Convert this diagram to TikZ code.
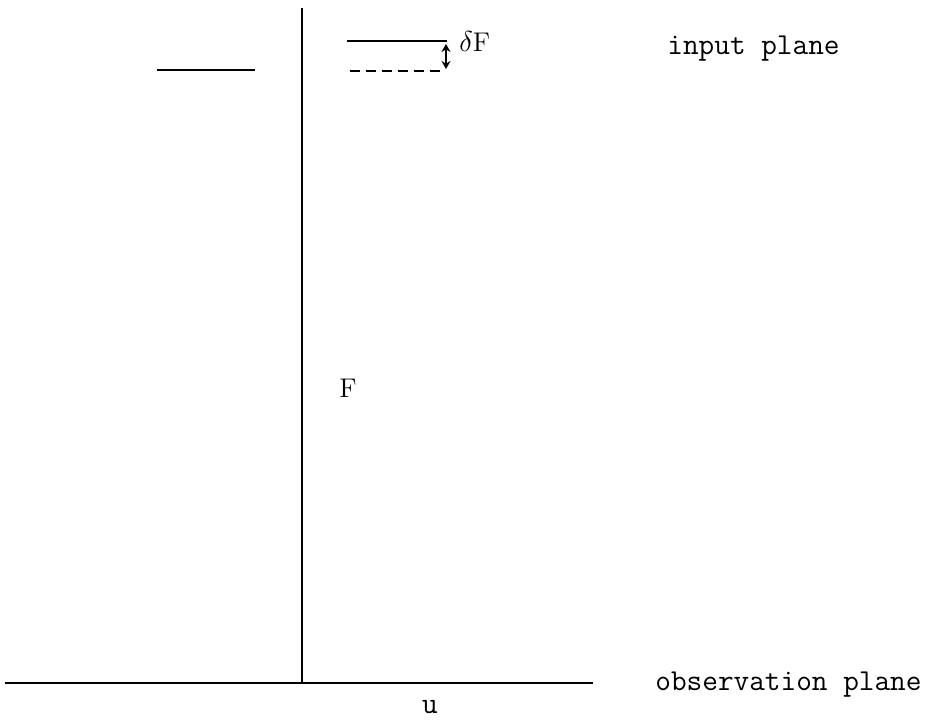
\documentclass[tikz,border=0pt]{standalone}
\usepackage{fontspec}
\usetikzlibrary{arrows.meta}

\begin{document}
\begin{tikzpicture}[x=0.5pt, y=-0.5pt,
  plane/.style={line width=1.3pt},
  level/.style={line width=1.3pt},
  shiftarr/.style={{Stealth[length=4pt,width=4.5pt]}-{Stealth[length=4pt,width=4.5pt]}, line width=1.3pt},
  lbl/.style={inner sep=0pt, font=\ttfamily\fontsize{15.2}{17}\selectfont},
  sym/.style={inner sep=0pt, font=\fontsize{13.5}{15}\selectfont}
]
\useasboundingbox (0,0) rectangle (943,721);
% axis and observation plane
\coordinate (top) at (302,8);
\coordinate (foot) at (302,683);
\coordinate (obsL) at (5,683);
\coordinate (obsR) at (593,683);
\draw[plane] (top) -- (foot);
\draw[plane] (obsL) -- (obsR);
% input plane levels
\coordinate (lvlA) at (157,70);
\coordinate (lvlB) at (255,70);
\coordinate (upA) at (347,41);
\coordinate (upB) at (447,41);
\coordinate (dnA) at (350,71);
\coordinate (dnB) at (445,71);
\draw[level] (lvlA) -- (lvlB);
\draw[level] (upA) -- (upB);
\draw[level, dash pattern=on 5pt off 3pt] (dnA) -- (dnB);
\coordinate (shA) at (446,44);
\coordinate (shB) at (446,69);
\draw[shiftarr] (shA) -- (shB);
% labels
\node[sym, anchor=base west] (dF) at (459,52) {$\delta$F};
\node[lbl, anchor=base west] (inp) at (667,55) {input plane};
\node[sym, anchor=base] (Flab) at (348,398) {F};
\node[lbl, anchor=base west] (obs) at (655,690) {observation plane};
\node[lbl, anchor=base] (u) at (430,713) {u};
\end{tikzpicture}
\end{document}
